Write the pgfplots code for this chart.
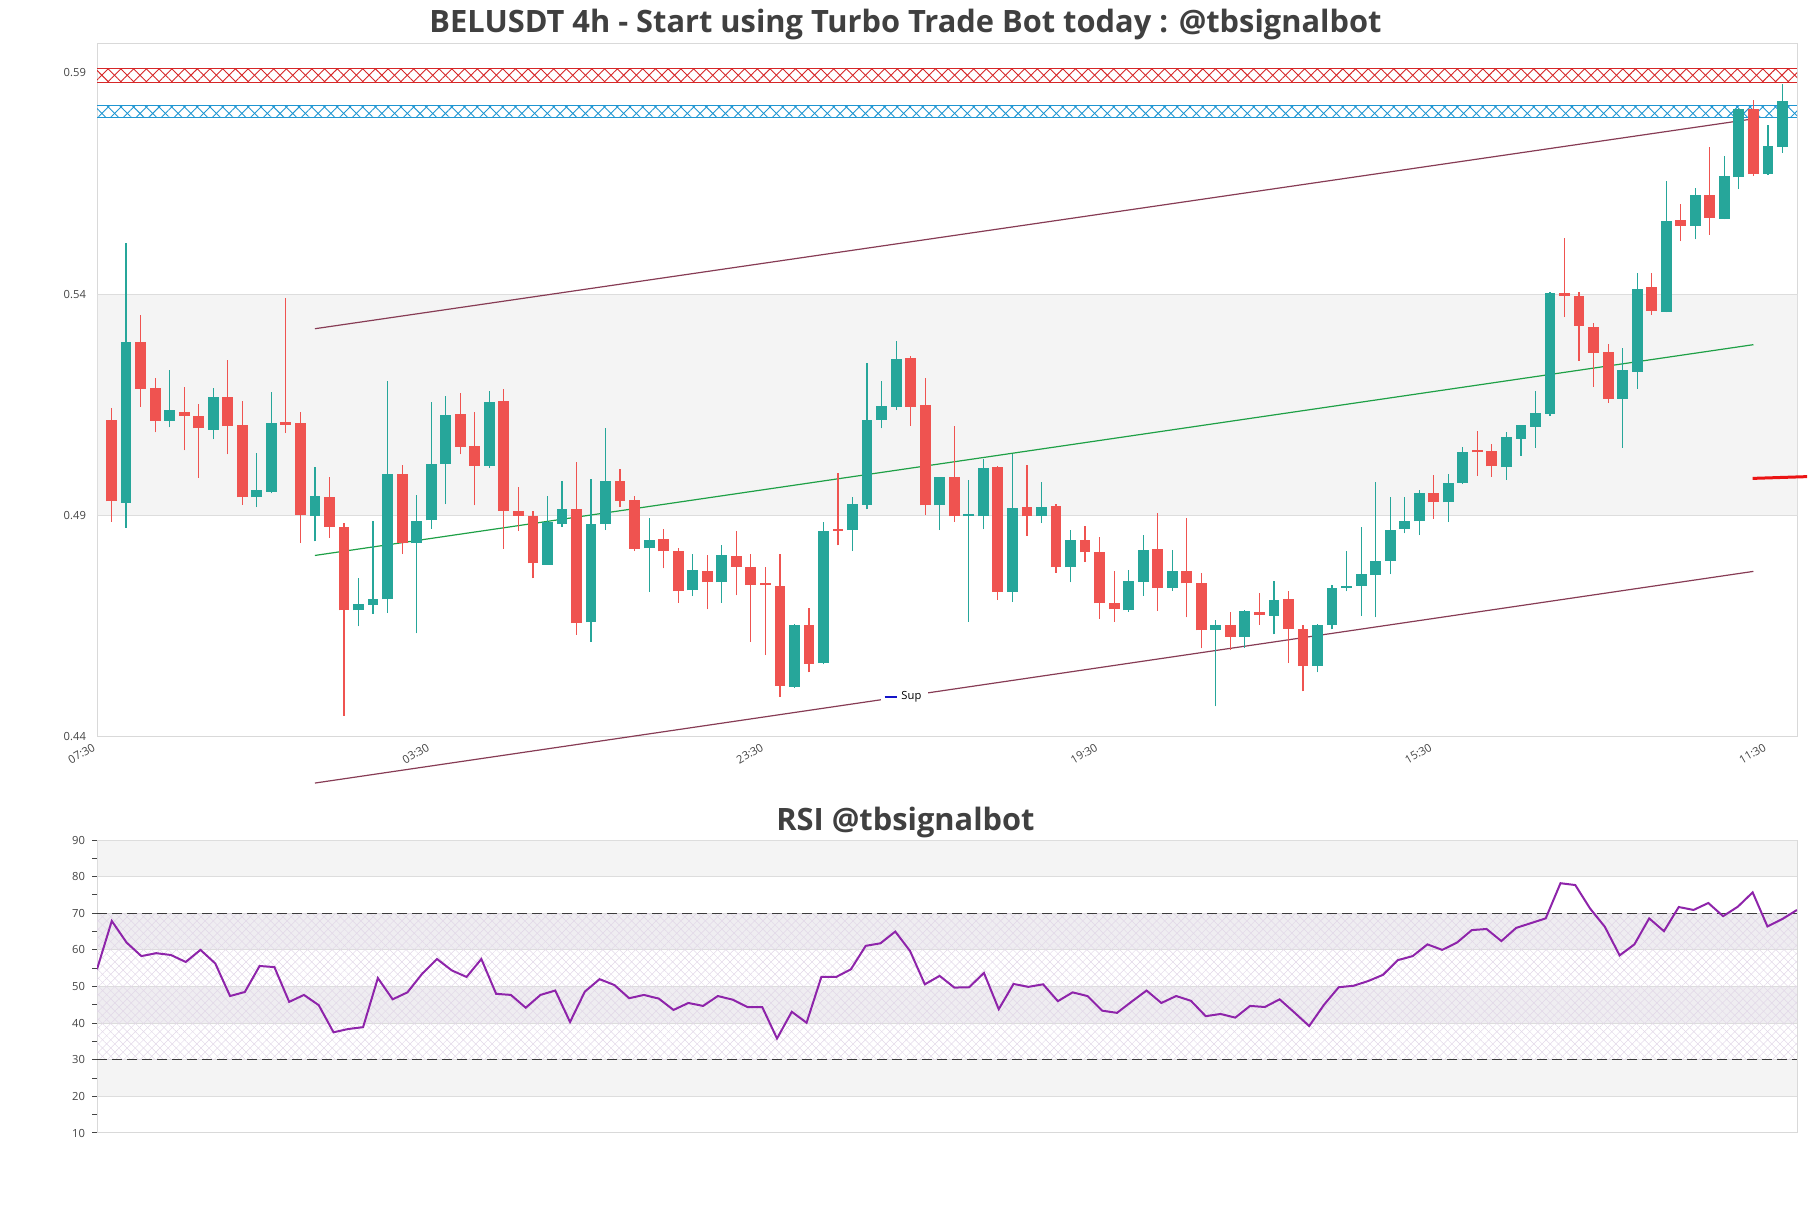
\documentclass[border=0pt]{standalone}
\usepackage{fontspec}
\setmainfont{Open Sans}
\usepackage{xcolor}
\usepackage{pgfplots}
\usepackage{pgfplotstable}
\pgfplotsset{compat=1.18}
\usetikzlibrary{patterns.meta}

\definecolor{candleup}{RGB}{38,166,154}
\definecolor{candledown}{RGB}{239,83,80}
\definecolor{bandgray}{RGB}{244,244,244}
\definecolor{bandlav}{RGB}{239,237,241}
\definecolor{gridgray}{RGB}{221,221,221}
\definecolor{framegray}{RGB}{217,217,217}
\definecolor{redband}{RGB}{214,39,40}
\definecolor{blueband}{RGB}{31,150,210}
\definecolor{trendmaroon}{RGB}{135,60,85}
\definecolor{trendgreen}{RGB}{30,160,70}
\definecolor{rsipurple}{RGB}{142,36,170}
\definecolor{hatchpurple}{RGB}{226,216,232}
\definecolor{dashdark}{RGB}{60,60,60}
\definecolor{titlegray}{RGB}{64,64,64}
\definecolor{labgray}{RGB}{68,68,68}
\definecolor{supblue}{RGB}{20,20,200}
\definecolor{lastred}{RGB}{235,20,20}

% 4h candles: index, open, high, low, close
\pgfplotstableread{
i o h l c
1 0.5117 0.5143 0.4886 0.4932
2 0.4929 0.5516 0.4872 0.5291
3 0.5291 0.5352 0.5146 0.5186
4 0.5188 0.5211 0.5088 0.5114
5 0.5114 0.5229 0.5099 0.5138
6 0.5134 0.5190 0.5047 0.5126
7 0.5125 0.5152 0.4986 0.5097
8 0.5094 0.5188 0.5072 0.5167
9 0.5167 0.5251 0.5038 0.5102
10 0.5104 0.5159 0.4925 0.4941
11 0.4941 0.5041 0.4919 0.4957
12 0.4954 0.5179 0.4950 0.5109
13 0.5112 0.5392 0.5086 0.5105
14 0.5109 0.5134 0.4838 0.4902
15 0.4900 0.5009 0.4842 0.4945
16 0.4943 0.4988 0.4850 0.4875
17 0.4874 0.4883 0.4448 0.4686
18 0.4686 0.4760 0.4650 0.4701
19 0.4699 0.4888 0.4678 0.4712
20 0.4711 0.5204 0.4680 0.4995
21 0.4994 0.5014 0.4813 0.4838
22 0.4837 0.4947 0.4634 0.4888
23 0.4889 0.5156 0.4870 0.5016
24 0.5017 0.5170 0.4926 0.5127
25 0.5129 0.5176 0.5038 0.5055
26 0.5057 0.5133 0.4923 0.5013
27 0.5013 0.5181 0.5007 0.5156
28 0.5159 0.5186 0.4825 0.4910
29 0.4910 0.4964 0.4865 0.4900
30 0.4899 0.4910 0.4758 0.4792
31 0.4789 0.4945 0.4789 0.4885
32 0.4881 0.4979 0.4875 0.4915
33 0.4915 0.5022 0.4631 0.4657
34 0.4659 0.4983 0.4615 0.4881
35 0.4881 0.5098 0.4867 0.4978
36 0.4978 0.5006 0.4919 0.4934
37 0.4936 0.4945 0.4820 0.4825
38 0.4826 0.4895 0.4727 0.4846
39 0.4847 0.4870 0.4781 0.4819
40 0.4820 0.4826 0.4703 0.4729
41 0.4731 0.4813 0.4718 0.4777
42 0.4774 0.4810 0.4688 0.4749
43 0.4749 0.4833 0.4703 0.4810
44 0.4808 0.4865 0.4720 0.4785
45 0.4783 0.4813 0.4615 0.4743
46 0.4745 0.4784 0.4585 0.4743
47 0.4742 0.4813 0.4491 0.4515
48 0.4513 0.4656 0.4511 0.4654
49 0.4652 0.4691 0.4546 0.4565
50 0.4567 0.4886 0.4564 0.4866
51 0.4867 0.4996 0.4833 0.4865
52 0.4867 0.4943 0.4820 0.4926
53 0.4925 0.5244 0.4914 0.5115
54 0.5116 0.5203 0.5097 0.5147
55 0.5146 0.5294 0.5138 0.5253
56 0.5255 0.5260 0.5103 0.5146
57 0.5150 0.5211 0.4902 0.4923
58 0.4923 0.4988 0.4867 0.4987
59 0.4987 0.5102 0.4886 0.4898
60 0.4898 0.4981 0.4660 0.4899
61 0.4898 0.5027 0.4869 0.5008
62 0.5010 0.5012 0.4710 0.4727
63 0.4727 0.5038 0.4705 0.4918
64 0.4920 0.5014 0.4854 0.4898
65 0.4898 0.4975 0.4883 0.4920
66 0.4922 0.4926 0.4771 0.4783
67 0.4783 0.4868 0.4749 0.4846
68 0.4846 0.4876 0.4795 0.4817
69 0.4818 0.4851 0.4667 0.4702
70 0.4703 0.4775 0.4660 0.4688
71 0.4686 0.4778 0.4683 0.4753
72 0.4751 0.4857 0.4719 0.4822
73 0.4825 0.4905 0.4684 0.4736
74 0.4736 0.4822 0.4730 0.4775
75 0.4775 0.4895 0.4670 0.4747
76 0.4748 0.4771 0.4600 0.4641
77 0.4642 0.4665 0.4469 0.4652
78 0.4652 0.4683 0.4596 0.4626
79 0.4626 0.4687 0.4601 0.4685
80 0.4683 0.4725 0.4654 0.4675
81 0.4674 0.4753 0.4632 0.4710
82 0.4712 0.4730 0.4567 0.4645
83 0.4644 0.4652 0.4503 0.4560
84 0.4560 0.4656 0.4546 0.4654
85 0.4654 0.4743 0.4643 0.4737
86 0.4736 0.4821 0.4729 0.4742
87 0.4741 0.4874 0.4674 0.4769
88 0.4766 0.4976 0.4670 0.4798
89 0.4797 0.4943 0.4768 0.4868
90 0.4869 0.4943 0.4860 0.4888
91 0.4887 0.4958 0.4856 0.4951
92 0.4951 0.4991 0.4893 0.4930
93 0.4930 0.4995 0.4885 0.4974
94 0.4974 0.5054 0.4971 0.5044
95 0.5045 0.5091 0.4990 0.5043
96 0.5046 0.5061 0.4988 0.5011
97 0.5009 0.5088 0.4981 0.5077
98 0.5074 0.5104 0.5035 0.5104
99 0.5101 0.5181 0.5053 0.5132
100 0.5130 0.5406 0.5126 0.5402
101 0.5402 0.5528 0.5348 0.5396
102 0.5395 0.5406 0.5250 0.5329
103 0.5325 0.5336 0.5191 0.5268
104 0.5269 0.5287 0.5155 0.5164
105 0.5164 0.5278 0.5053 0.5228
106 0.5225 0.5447 0.5187 0.5411
107 0.5416 0.5447 0.5353 0.5363
108 0.5360 0.5655 0.5359 0.5565
109 0.5567 0.5603 0.5520 0.5554
110 0.5554 0.5639 0.5524 0.5623
111 0.5623 0.5733 0.5534 0.5572
112 0.5570 0.5711 0.5569 0.5668
113 0.5664 0.5820 0.5637 0.5819
114 0.5819 0.5838 0.5667 0.5671
115 0.5671 0.5781 0.5670 0.5735
116 0.5732 0.5875 0.5719 0.5837
}\candles

% RSI values
\pgfplotstableread{
i r
0 54.7
1 67.9
2 62.0
3 58.3
4 59.1
5 58.6
6 56.7
7 60.0
8 56.3
9 47.4
10 48.5
11 55.6
12 55.3
13 45.8
14 47.7
15 44.9
16 37.5
17 38.4
18 38.9
19 52.3
20 46.5
21 48.4
22 53.5
23 57.5
24 54.4
25 52.6
26 57.5
27 48.0
28 47.7
29 44.2
30 47.7
31 48.9
32 40.3
33 48.6
34 52.0
35 50.4
36 46.8
37 47.7
38 46.7
39 43.6
40 45.5
41 44.7
42 47.4
43 46.4
44 44.4
45 44.4
46 35.8
47 43.1
48 40.1
49 52.6
50 52.6
51 54.7
52 61.1
53 61.8
54 65.0
55 59.7
56 50.6
57 52.9
58 49.7
59 49.8
60 53.7
61 43.8
62 50.7
63 49.9
64 50.6
65 46.0
66 48.4
67 47.4
68 43.4
69 42.8
70 45.9
71 48.9
72 45.5
73 47.4
74 46.1
75 41.9
76 42.5
77 41.5
78 44.7
79 44.4
80 46.5
81 42.9
82 39.2
83 45.0
84 49.8
85 50.2
86 51.5
87 53.2
88 57.2
89 58.3
90 61.5
91 60.0
92 62.0
93 65.4
94 65.7
95 62.4
96 66.0
97 67.3
98 68.6
99 78.2
100 77.7
101 71.3
102 66.3
103 58.5
104 61.5
105 68.6
106 65.1
107 71.7
108 70.9
109 72.8
110 69.2
111 71.8
112 75.7
113 66.4
114 68.4
115 70.9
}\rsi

\pgfplotsset{
  chartbase/.style={
    scale only axis, width=850pt,
    axis line style={draw=framegray, line width=0.5pt},
    tick label style={font=\fontsize{5.6}{7}\selectfont, text=labgray},
    title style={font=\fontsize{15.4}{18}\selectfont\bfseries, text=titlegray,
      at={(0.5,1)}, anchor=center, xshift=-20.75pt},
  },
  wick/.style={draw=none, mark=none, forget plot, unbounded coords=discard,
    error bars/y dir=plus, error bars/y explicit, error bars/error mark=none,
    error bars/error bar style={draw=#1, line width=0.6pt}},
  body/.style={draw=none, mark=none, forget plot, unbounded coords=discard,
    error bars/y dir=plus, error bars/y explicit, error bars/error mark=none,
    error bars/error bar style={draw=#1, line width=5.4pt}},
}

\begin{document}
\begin{tikzpicture}
\path[use as bounding box] (0,0) rectangle (905.5pt,-604pt);

% ---- price panel ----
\begin{axis}[chartbase,
  at={(48.5pt,-22pt)}, anchor=north west, height=346.5pt,
  xmin=0, xmax=117, ymin=0.44, ymax=0.5965,
  clip=false,
  major tick length=0pt,
  xtick={0,23,46,69,92,115},
  xticklabels={07:30,03:30,23:30,19:30,15:30,11:30},
  xticklabel style={rotate=30, anchor=north east, inner sep=1pt, xshift=-2.5pt},
  ytick={0.44,0.49,0.54,0.59},
  yticklabels={0.44,0.49,0.54,0.59},
  yticklabel style={xshift=-2pt},
  title={BELUSDT 4h - Start using Turbo Trade Bot today : @tbsignalbot},
  title style={yshift=3.6pt},
  legend style={at={(0.475,0.058)}, anchor=center, draw=none, fill=white,
    font=\fontsize{5.6}{7}\selectfont, inner sep=1.5pt},
  legend image code/.code={\draw[#1] (0pt,0pt) -- (6pt,0pt);},
]
\addlegendimage{supblue, line width=0.9pt}
\addlegendentry{Sup}

% grey zone
\addplot[forget plot, fill=bandgray, draw=gridgray, line width=0.5pt]
  coordinates {(0,0.49) (117,0.49) (117,0.54) (0,0.54)} -- cycle;

% hatched resistance zones
\addplot[forget plot, draw=none, pattern={Lines[angle=45,distance=4.5pt,line width=0.45pt]}, pattern color=redband]
  coordinates {(0,0.5879) (117,0.5879) (117,0.5909) (0,0.5909)} -- cycle;
\addplot[forget plot, draw=none, pattern={Lines[angle=-45,distance=4.5pt,line width=0.45pt]}, pattern color=redband]
  coordinates {(0,0.5879) (117,0.5879) (117,0.5909) (0,0.5909)} -- cycle;
\addplot[forget plot, redband, line width=0.5pt] coordinates {(0,0.5879) (117,0.5879)};
\addplot[forget plot, redband, line width=0.5pt] coordinates {(0,0.5909) (117,0.5909)};

\addplot[forget plot, draw=none, pattern={Lines[angle=45,distance=4.5pt,line width=0.45pt]}, pattern color=blueband]
  coordinates {(0,0.5798) (117,0.5798) (117,0.5826) (0,0.5826)} -- cycle;
\addplot[forget plot, draw=none, pattern={Lines[angle=-45,distance=4.5pt,line width=0.45pt]}, pattern color=blueband]
  coordinates {(0,0.5798) (117,0.5798) (117,0.5826) (0,0.5826)} -- cycle;
\addplot[forget plot, blueband, line width=0.5pt] coordinates {(0,0.5798) (117,0.5798)};
\addplot[forget plot, blueband, line width=0.5pt] coordinates {(0,0.5826) (117,0.5826)};

% channel
\addplot[forget plot, trendmaroon, line width=0.6pt] coordinates {(15,0.5322) (114,0.5796)};
\addplot[forget plot, trendgreen, line width=0.6pt] coordinates {(15,0.4810) (114,0.5286)};
\addplot[forget plot, trendmaroon, line width=0.6pt] coordinates {(15,0.4296) (114,0.4774)};

% candles: wicks then bodies
\addplot[wick=candleup] table[x=i,
  y expr={\thisrow{c}>=\thisrow{o} ? \thisrow{l} : nan},
  y error plus expr={\thisrow{h}-\thisrow{l}}] {\candles};
\addplot[wick=candledown] table[x=i,
  y expr={\thisrow{c}<\thisrow{o} ? \thisrow{l} : nan},
  y error plus expr={\thisrow{h}-\thisrow{l}}] {\candles};
\addplot[body=candleup] table[x=i,
  y expr={\thisrow{c}>=\thisrow{o} ? \thisrow{o} : nan},
  y error plus expr={max(\thisrow{c}-\thisrow{o},0.0005)}] {\candles};
\addplot[body=candledown] table[x=i,
  y expr={\thisrow{c}<\thisrow{o} ? \thisrow{c} : nan},
  y error plus expr={max(\thisrow{o}-\thisrow{c},0.0005)}] {\candles};

% last level marker
\addplot[forget plot, lastred, line width=1.5pt] coordinates {(113.95,0.4984) (117.7,0.4988)};
\end{axis}

% ---- RSI panel ----
\begin{axis}[chartbase,
  at={(48.5pt,-420pt)}, anchor=north west, height=146.5pt,
  xmin=0, xmax=115, ymin=10, ymax=90,
  xtick=\empty,
  ytick={10,20,...,90},
  yticklabels={10,20,30,40,50,60,70,80,90},
  minor ytick={15,25,...,85},
  ytick pos=left,
  tick align=outside,
  major tick length=2.5pt, minor tick length=2.5pt,
  every tick/.style={draw=labgray, line width=0.5pt},
  title={RSI @tbsignalbot},
  title style={yshift=3pt},
]
\addplot[forget plot, fill=bandgray, draw=gridgray, line width=0.5pt]
  coordinates {(0,80) (115,80) (115,90) (0,90)} -- cycle;
\addplot[forget plot, fill=bandgray, draw=gridgray, line width=0.5pt]
  coordinates {(0,20) (115,20) (115,30) (0,30)} -- cycle;
\addplot[forget plot, fill=bandlav, draw=gridgray, line width=0.5pt]
  coordinates {(0,60) (115,60) (115,70) (0,70)} -- cycle;
\addplot[forget plot, fill=bandlav, draw=gridgray, line width=0.5pt]
  coordinates {(0,40) (115,40) (115,50) (0,50)} -- cycle;
\addplot[forget plot, draw=none, pattern={Lines[angle=45,distance=2.9pt,line width=0.25pt]}, pattern color=hatchpurple]
  coordinates {(0,30) (115,30) (115,70) (0,70)} -- cycle;
\addplot[forget plot, draw=none, pattern={Lines[angle=-45,distance=2.9pt,line width=0.25pt]}, pattern color=hatchpurple]
  coordinates {(0,30) (115,30) (115,70) (0,70)} -- cycle;
\addplot[forget plot, dashdark, line width=0.7pt, dash pattern=on 5pt off 2.5pt] coordinates {(0,70) (115,70)};
\addplot[forget plot, dashdark, line width=0.7pt, dash pattern=on 5pt off 2.5pt] coordinates {(0,30) (115,30)};

\addplot[forget plot, rsipurple, line width=1pt] table[x=i, y=r] {\rsi};
\end{axis}
\end{tikzpicture}
\end{document}
